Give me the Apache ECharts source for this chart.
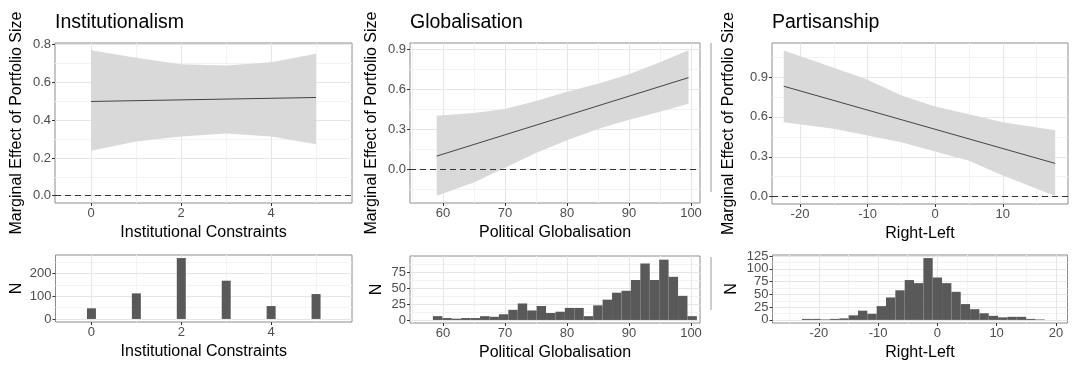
<!DOCTYPE html>
<html><head><meta charset="utf-8">
<script src="https://cdn.jsdelivr.net/npm/echarts@6/dist/echarts.min.js"></script>
<style>html,body{margin:0;padding:0;background:#fff}#c{width:1073px;height:366px}</style>
</head><body><div id="c"></div>
<script>
// ---------- DATA ----------
// Institutionalism
const instBandX = [0, 1, 2, 3, 4, 5];
const instUpper = [0.770, 0.730, 0.696, 0.690, 0.707, 0.751];
const instLower = [0.238, 0.287, 0.313, 0.330, 0.313, 0.273];
const instLineX = [0, 5];
const instLineY = [0.499, 0.520];
const instHistX = [0, 1, 2, 3, 4, 5];
const instHistN = [47, 113, 269, 169, 57, 110];

// Globalisation
const globBandX = [59, 65, 70, 75, 80, 85, 90, 95, 99.6];
const globUpper = [0.40, 0.42, 0.45, 0.51, 0.58, 0.64, 0.71, 0.80, 0.89];
const globLower = [-0.20, -0.10, 0.01, 0.12, 0.215, 0.30, 0.37, 0.43, 0.49];
const globLineX = [59, 99.6];
const globLineY = [0.097, 0.685];
const globHistStart = 58.39, globHistBin = 1.52;
const globHistN = [6, 3, 2, 3, 3, 6, 5, 9, 16, 26, 15, 22, 11, 13, 19, 19, 6, 23, 32, 43, 46, 63, 89, 63, 95, 68, 38, 6];

// Partisanship
const partBandX = [-22.4, -15, -10, -5, 0, 5, 10, 17.75];
const partUpper = [1.098, 0.969, 0.878, 0.76, 0.677, 0.62, 0.56, 0.50];
const partLower = [0.56, 0.51, 0.46, 0.41, 0.34, 0.27, 0.16, 0.005];
const partLineX = [-22.4, 17.75];
const partLineY = [0.83, 0.25];
const partHistStart = -22.85, partHistBin = 1.576;
const partHistN = [2, 2, 1, 2, 3, 9, 18, 12, 27, 44, 58, 78, 72, 121, 83, 72, 55, 31, 21, 13, 8, 5, 6, 6, 2, 1];

// Text
const titles = ['Institutionalism', 'Globalisation', 'Partisanship'];
const xNames = ['Institutional Constraints', 'Political Globalisation', 'Right-Left'];
const yNameTop = 'Marginal Effect of Portfolio Size';
const yNameBottom = 'N';

// ---------- BUILD ----------
const FONT = "'Liberation Sans', Arial, sans-serif";
const grids = [], xAxes = [], yAxes = [], series = [], extraY = [];
const labelStyle = {color: '#4d4d4d', fontSize: 13, fontFamily: FONT, margin: 4,
  showMinLabel: true, showMaxLabel: true, hideOverlap: false};

function addPanel(g, xr, yr, xMaj, xMin, yMaj, yMin, xName, yName, yFmt, xGap, yGap, yLabelSplit) {
  const i = grids.length;
  grids.push(Object.assign({show: true, borderColor: '#8c8c8c', borderWidth: 1, backgroundColor: '#fff'}, g));
  xAxes.push({type: 'value', gridIndex: i, min: xr[0], max: xr[1], position: 'bottom',
    axisLine: {show: false, onZero: false},
    axisTick: {show: true, length: 3, lineStyle: {color: '#333'}, customValues: xMaj},
    axisLabel: Object.assign({customValues: xMaj}, labelStyle),
    splitLine: {show: true, lineStyle: {color: '#e6e6e6', width: 1}},
    name: xName, nameLocation: 'middle', nameGap: xGap,
    nameTextStyle: {color: '#000', fontSize: 16, fontFamily: FONT}, z: 1});
  xAxes.push({type: 'value', gridIndex: i, min: xr[0], max: xr[1], position: 'top',
    axisLine: {show: false, onZero: false}, axisTick: {show: false, customValues: xMin},
    axisLabel: {show: false, customValues: xMin},
    splitLine: {show: true, lineStyle: {color: '#f3f3f3', width: 1}}, z: 0});
  // when labels are packed too tightly, split them over two axes on the same side
  const labA = yLabelSplit ? yMaj.filter((v, k) => k % 2 === 0) : yMaj;
  const labB = yLabelSplit ? yMaj.filter((v, k) => k % 2 === 1) : null;
  yAxes.push({type: 'value', gridIndex: i, min: yr[0], max: yr[1], position: 'left',
    axisLine: {show: false, onZero: false},
    axisTick: {show: true, length: 3, lineStyle: {color: '#333'}, customValues: yMaj},
    axisLabel: Object.assign({customValues: labA, formatter: yFmt}, labelStyle),
    splitLine: {show: true, lineStyle: {color: '#e6e6e6', width: 1}},
    name: yName, nameLocation: 'middle', nameGap: yGap, nameRotate: 90,
    nameTextStyle: {color: '#000', fontSize: 16, fontFamily: FONT}, z: 1});
  yAxes.push({type: 'value', gridIndex: i, min: yr[0], max: yr[1], position: 'right',
    axisLine: {show: false, onZero: false}, axisTick: {show: false, customValues: yMin},
    axisLabel: {show: false, customValues: yMin},
    splitLine: {show: true, lineStyle: {color: '#f3f3f3', width: 1}}, z: 0});
  if (labB) {
    extraY.push({type: 'value', gridIndex: i, min: yr[0], max: yr[1], position: 'left',
      axisLine: {show: false, onZero: false}, axisTick: {show: false, customValues: labB},
      axisLabel: Object.assign({customValues: labB, formatter: yFmt}, labelStyle),
      splitLine: {show: false}, z: 1});
  }
  return 2 * i;
}

function addEffect(ax, bx, up, lo, lx, ly) {
  const pts = bx.map((x, k) => [x, lo[k], up[k]]);
  series.push({type: 'custom', xAxisIndex: ax, yAxisIndex: ax, silent: true, z: 2,
    data: pts,
    renderItem: function (params, api) {
      if (params.dataIndex !== 0) return null;
      const poly = [];
      for (let k = 0; k < bx.length; k++) poly.push(api.coord([bx[k], up[k]]));
      for (let k = bx.length - 1; k >= 0; k--) poly.push(api.coord([bx[k], lo[k]]));
      return {type: 'polygon', shape: {points: poly}, style: {fill: '#d9d9d9'}};
    }});
  series.push({type: 'line', xAxisIndex: ax, yAxisIndex: ax, silent: true, z: 3,
    data: lx.map((x, k) => [x, ly[k]]), showSymbol: false, symbol: 'none',
    lineStyle: {color: '#444', width: 1},
    markLine: {silent: true, symbol: ['none', 'none'], label: {show: false},
      lineStyle: {type: [6, 4], color: '#333', width: 1.1}, data: [{yAxis: 0}]}});
}

function addHist(ax, edges0, edges1, counts) {
  series.push({type: 'custom', xAxisIndex: ax, yAxisIndex: ax, silent: true, z: 2,
    data: counts.map((n, k) => [edges0[k], edges1[k], n]),
    renderItem: function (params, api) {
      const p0 = api.coord([api.value(0), 0]);
      const p1 = api.coord([api.value(1), api.value(2)]);
      return {type: 'rect', shape: {x: p0[0], y: p1[1], width: p1[0] - p0[0], height: p0[1] - p1[1]},
        style: {fill: '#595959'}};
    }});
}

const f1 = v => Number(v).toFixed(1);
const f0 = v => String(Math.round(v));

// Top panels
let a = addPanel({left: 55, top: 43, width: 297, height: 160}, [-0.8, 5.8], [-0.0385, 0.8085],
  [0, 2, 4], [1, 3, 5], [0, 0.2, 0.4, 0.6, 0.8], [0.1, 0.3, 0.5, 0.7], xNames[0], yNameTop, f1, 22, 30);
addEffect(a, instBandX, instUpper, instLower, instLineX, instLineY);

a = addPanel({left: 410, top: 43, width: 290, height: 160}, [54.7, 101.45], [-0.2545, 0.9445],
  [60, 70, 80, 90, 100], [55, 65, 75, 85, 95], [0, 0.3, 0.6, 0.9], [-0.15, 0.15, 0.45, 0.75], xNames[1], yNameTop, f1, 22, 30);
addEffect(a, globBandX, globUpper, globLower, globLineX, globLineY);

a = addPanel({left: 772, top: 43, width: 296, height: 161}, [-24.14, 19.65], [-0.055, 1.155],
  [-20, -10, 0, 10], [-15, -5, 5, 15], [0, 0.3, 0.6, 0.9], [0.15, 0.45, 0.75, 1.05], xNames[2], yNameTop, f1, 22, 35);
addEffect(a, partBandX, partUpper, partLower, partLineX, partLineY);

// Bottom histograms
a = addPanel({left: 55.5, top: 255, width: 296.5, height: 67}, [-0.8, 5.8], [-13.45, 282.45],
  [0, 2, 4], [1, 3, 5], [0, 100, 200], [50, 150, 250], xNames[0], yNameBottom, f0, 22, 31);
addHist(a, instHistX.map(x => x - 0.1), instHistX.map(x => x + 0.1), instHistN);

a = addPanel({left: 410, top: 256, width: 290, height: 67}, [54.7, 101.45], [-4.8, 100.8],
  [60, 70, 80, 90, 100], [55, 65, 75, 85, 95], [0, 25, 50, 75], [12.5, 37.5, 62.5, 87.5], xNames[1], yNameBottom, f0, 22, 25);
addHist(a, globHistN.map((n, k) => globHistStart + k * globHistBin),
  globHistN.map((n, k) => globHistStart + (k + 1) * globHistBin), globHistN);

a = addPanel({left: 772.5, top: 255, width: 295, height: 68}, [-27.82, 21.96], [-6.05, 127.05],
  [-20, -10, 0, 10, 20], [-25, -15, -5, 5, 15], [0, 25, 50, 75, 100, 125], [12.5, 37.5, 62.5, 87.5, 112.5], xNames[2], yNameBottom, f0, 22, 33, true);
addHist(a, partHistN.map((n, k) => partHistStart + k * partHistBin),
  partHistN.map((n, k) => partHistStart + (k + 1) * partHistBin), partHistN);

const titleLeft = [55, 410, 772];
const option = {
  animation: false,
  backgroundColor: '#fff',
  title: titles.map((t, k) => ({text: t, left: titleLeft[k], top: 13, padding: 0,
    textStyle: {fontSize: 19.5, fontWeight: 'normal', color: '#000', fontFamily: FONT}})),
  grid: grids, xAxis: xAxes, yAxis: yAxes.concat(extraY), series: series,
  graphic: [
    {type: 'line', shape: {x1: 711, y1: 43, x2: 711, y2: 192}, style: {stroke: '#9a9a9a', lineWidth: 1}},
    {type: 'line', shape: {x1: 711, y1: 257, x2: 711, y2: 310}, style: {stroke: '#9a9a9a', lineWidth: 1}}
  ]
};
echarts.init(document.getElementById('c'), null, {renderer: 'canvas'}).setOption(option);
</script></body></html>
